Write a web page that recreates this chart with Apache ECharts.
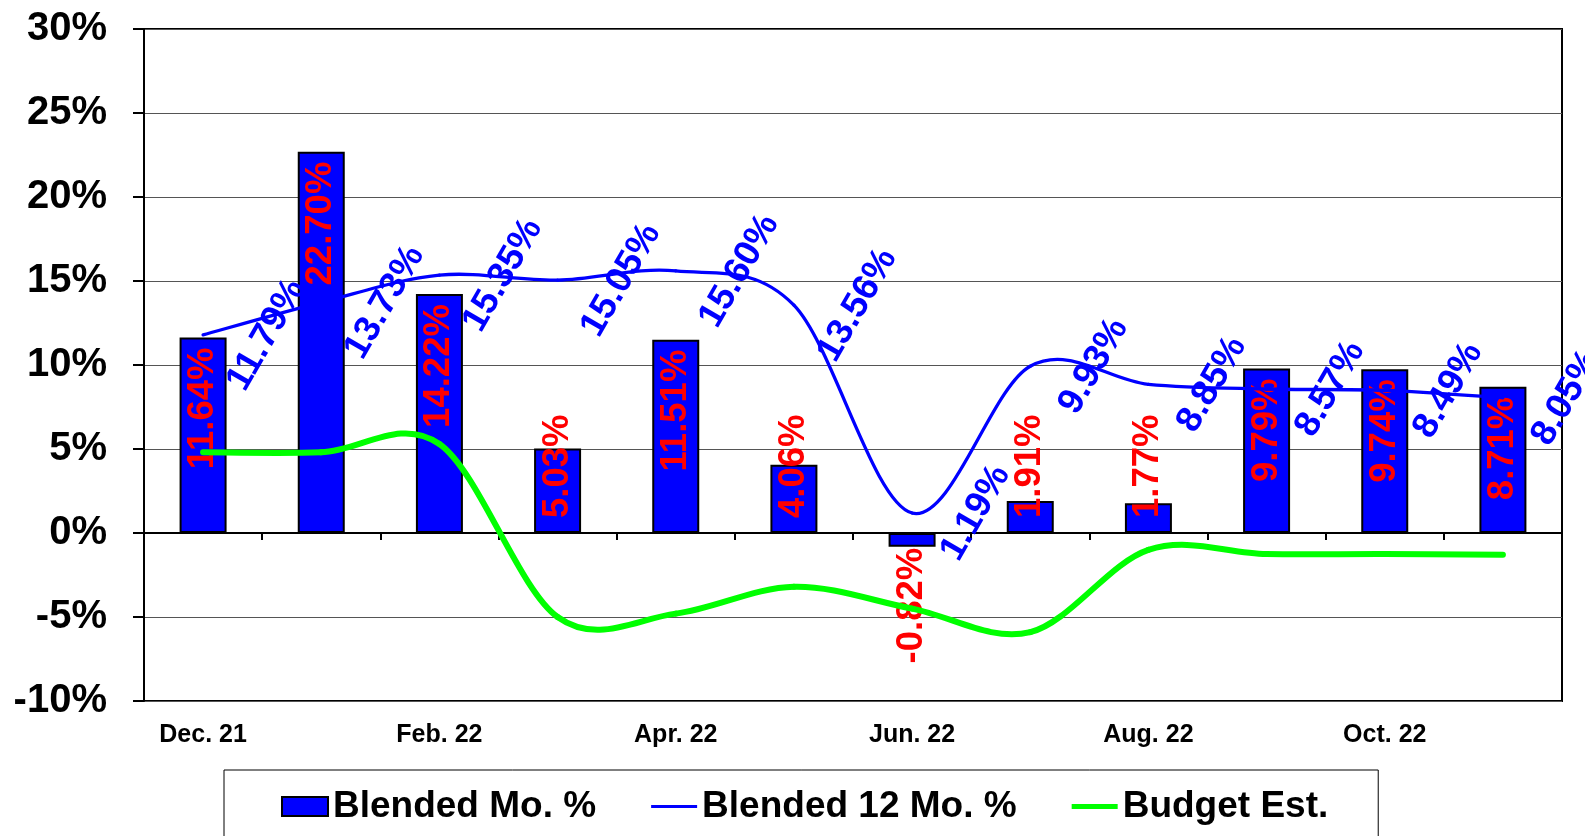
<!DOCTYPE html>
<html>
<head>
<meta charset="utf-8">
<script src="https://cdn.jsdelivr.net/npm/echarts@6/dist/echarts.min.js"></script>
<style>
html,body{margin:0;padding:0;background:#fff;}
#chart{width:1585px;height:836px;}
</style>
</head>
<body>
<div id="chart"></div>
<script>
const categories = ['Dec. 21','Jan. 22','Feb. 22','Mar. 22','Apr. 22','May 22','Jun. 22','Jul. 22','Aug. 22','Sep. 22','Oct. 22','Nov. 22'];
const blendedMo = [11.64, 22.70, 14.22, 5.03, 11.51, 4.06, -0.82, 1.91, 1.77, 9.79, 9.74, 8.71];
const blended12Mo = [11.79, 13.73, 15.35, 15.05, 15.60, 13.56, 1.19, 9.93, 8.85, 8.57, 8.49, 8.05];
const budgetEst = [4.8, 4.8, 5.3, -5.0, -4.8, -3.2, -4.5, -5.9, -1.0, -1.25, -1.25, -1.3];
const seriesNames = ['Blended Mo. %', 'Blended 12 Mo. %', 'Budget Est.'];

const FONT = "'Liberation Sans', Arial, sans-serif";
const fmt = v => v.toFixed(2) + '%';

function barLabel(v) {
  const base = {show: true, rotate: 90, color: '#FF0000', fontSize: 36.5, fontWeight: 'bold', fontFamily: FONT,
    verticalAlign: 'middle', formatter: p => fmt(p.value)};
  if (v < 0) return Object.assign(base, {position: 'bottom', align: 'right', distance: 1});
  if (v < 7) return Object.assign(base, {position: 'insideBottom', align: 'left', distance: 15});
  return Object.assign(base, {position: 'insideTop', align: 'right', distance: 10});
}

// Smooth curve (Catmull-Rom style bezier) through the data points, positioned by the chart's own scales
function smoothRenderer(values, color, width) {
  return function (params, api) {
    const i = params.dataIndex;
    const n = values.length;
    if (i >= n - 1) return null;
    const pt = j => { const k = Math.max(0, Math.min(n - 1, j)); return api.coord([k, values[k]]); };
    const p0 = pt(i - 1), p1 = pt(i), p2 = pt(i + 1), p3 = pt(i + 2);
    return {
      type: 'bezierCurve',
      shape: {
        x1: p1[0], y1: p1[1], x2: p2[0], y2: p2[1],
        cpx1: p1[0] + (p2[0] - p0[0]) / 6, cpy1: p1[1] + (p2[1] - p0[1]) / 6,
        cpx2: p2[0] - (p3[0] - p1[0]) / 6, cpy2: p2[1] - (p3[1] - p1[1]) / 6
      },
      style: {stroke: color, lineWidth: width, fill: null, lineCap: 'round'},
      silent: true
    };
  };
}

const chart = echarts.init(document.getElementById('chart'), null, {renderer: 'canvas'});
chart.setOption({
  backgroundColor: '#fff',
  animation: false,
  grid: {left: 144, right: 23, top: 29, bottom: 135, show: true, borderColor: '#000', borderWidth: 2,
    backgroundColor: 'transparent', containLabel: false, outerBoundsMode: 'none'},
  legend: {
    left: 224, top: 770,
    padding: [18, 50, 40, 57],
    itemGap: 55, itemWidth: 46, itemHeight: 19,
    borderColor: '#000', borderWidth: 1,
    textStyle: {fontSize: 37, fontWeight: 'bold', color: '#000', fontFamily: FONT},
    data: [
      {name: seriesNames[0], icon: 'rect'},
      {name: seriesNames[1], icon: 'path://M0,0H46V3H0Z', itemStyle: {borderWidth: 0}},
      {name: seriesNames[2], icon: 'path://M0,0H46V5H0Z', itemStyle: {borderWidth: 0}}
    ]
  },
  xAxis: [
    {
      type: 'category', data: categories, position: 'bottom',
      axisLine: {show: false, onZero: false},
      axisTick: {show: false},
      axisLabel: {interval: 1, margin: 22, fontSize: 25, fontWeight: 'bold', color: '#000', fontFamily: FONT},
      splitLine: {show: false}
    },
    {
      type: 'category', data: categories, position: 'top',
      axisLine: {show: true, onZero: true, lineStyle: {color: '#000', width: 2}},
      axisTick: {show: true, inside: true, length: 7, lineStyle: {color: '#000', width: 2}},
      axisLabel: {show: false},
      splitLine: {show: false}
    }
  ],
  yAxis: {
    type: 'value', min: -10, max: 30, interval: 5,
    axisLine: {show: true, lineStyle: {color: '#000', width: 2}},
    axisTick: {show: true, length: 11, lineStyle: {color: '#000', width: 2}},
    axisLabel: {margin: 37, fontSize: 40, fontWeight: 'bold', color: '#000', fontFamily: FONT, formatter: '{value}%'},
    splitLine: {show: true, lineStyle: {color: '#555', width: 1.2}}
  },
  series: [
    {
      name: seriesNames[0], type: 'bar', barWidth: 47, xAxisIndex: 0,
      itemStyle: {color: '#0000FF', borderColor: '#000', borderWidth: 2},
      data: blendedMo.map(v => ({value: v, label: barLabel(v)})),
      z: 2
    },
    {
      type: 'custom', xAxisIndex: 0, z: 3,
      data: blended12Mo.map((v, i) => [i, v]),
      encode: {x: 0, y: 1},
      renderItem: smoothRenderer(blended12Mo, '#0000FF', 3.3)
    },
    {
      type: 'custom', xAxisIndex: 0, z: 4,
      data: budgetEst.map((v, i) => [i, v]),
      encode: {x: 0, y: 1},
      renderItem: smoothRenderer(budgetEst, '#00FF00', 6)
    },
    {
      name: seriesNames[1], type: 'line', data: blended12Mo, xAxisIndex: 0,
      color: '#0000FF',
      symbol: 'circle', symbolSize: 1, showSymbol: true,
      itemStyle: {color: '#0000FF', borderWidth: 0},
      lineStyle: {color: '#0000FF', width: 0, opacity: 0},
      label: {show: true, position: 'right', distance: 63, align: 'center', verticalAlign: 'middle', rotate: 60,
        color: '#0000FF', fontSize: 36.5, fontWeight: 'bold', fontFamily: FONT, formatter: p => fmt(p.value)},
      z: 5
    },
    {
      name: seriesNames[2], type: 'line', data: budgetEst, xAxisIndex: 0,
      color: '#00FF00',
      symbol: 'none',
      itemStyle: {color: '#00FF00', borderWidth: 0},
      lineStyle: {color: '#00FF00', width: 0, opacity: 0},
      z: 5
    }
  ]
});
</script>
</body>
</html>
